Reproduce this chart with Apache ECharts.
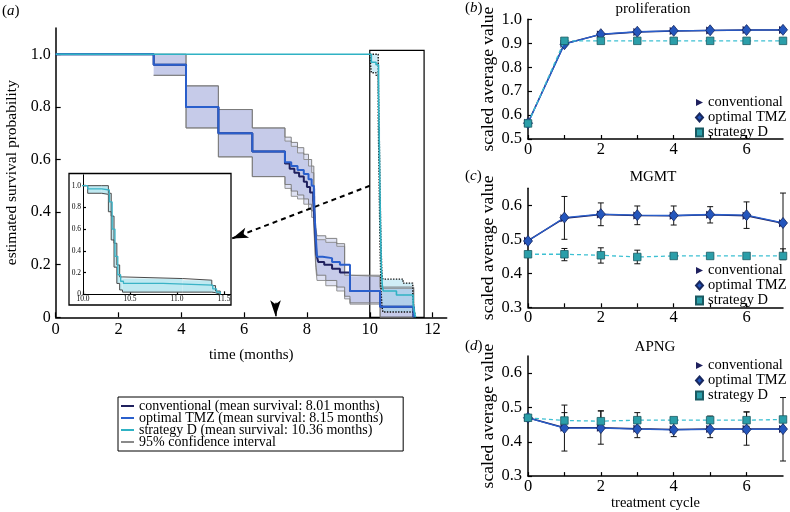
<!DOCTYPE html>
<html><head><meta charset="utf-8">
<script src="https://cdn.jsdelivr.net/npm/echarts@6/dist/echarts.min.js"></script>
<style>html,body{margin:0;padding:0;background:#fff}#c{width:790px;height:512px}</style>
</head><body><div id="c"></div>
<script>
// ---------------- (a) Kaplan-Meier data ----------------
const convT = [0, 3.12, 4.15, 5.18, 6.26, 7.3, 7.45, 7.6, 7.75, 7.9, 8.0, 8.1, 8.2, 8.26, 8.3, 8.36, 8.55, 8.8, 9.05, 9.37, 10.33, 11.39];
const convS = [1, 0.96, 0.80, 0.70, 0.63, 0.585, 0.565, 0.55, 0.535, 0.515, 0.495, 0.475, 0.445, 0.33, 0.24, 0.21, 0.2, 0.185, 0.17, 0.1, 0.04, 0];
const optT = [0, 3.12, 4.15, 5.18, 6.26, 7.3, 7.5, 7.7, 7.9, 8.05, 8.15, 8.22, 8.27, 8.32, 8.5, 8.8, 9.05, 9.37, 10.33, 11.4];
const optS = [1, 0.96, 0.80, 0.70, 0.63, 0.59, 0.575, 0.56, 0.545, 0.525, 0.50, 0.45, 0.33, 0.23, 0.225, 0.21, 0.2, 0.1, 0.04, 0];
const dT = [0, 10.05, 10.2, 10.28, 10.31, 10.34, 10.37, 10.4, 10.43, 10.85, 11.38, 11.42, 11.46];
const dS = [1, 0.97, 0.96, 0.85, 0.6, 0.35, 0.18, 0.12, 0.1, 0.085, 0.05, 0.02, 0];

const convBandT = [3.12, 4.15, 5.18, 6.26, 7.3, 7.5, 7.7, 7.9, 8.05, 8.15, 8.22, 8.28, 8.32, 8.6, 8.95, 9.2, 9.37, 10.33, 11.4];
const convHi = [1.0, 0.88, 0.79, 0.72, 0.67, 0.65, 0.625, 0.6, 0.575, 0.55, 0.46, 0.32, 0.295, 0.285, 0.27, 0.16, 0.155, 0.11, 0];
const convLo = [0.92, 0.72, 0.61, 0.535, 0.49, 0.46, 0.45, 0.43, 0.41, 0.38, 0.34, 0.19, 0.14, 0.12, 0.1, 0.07, 0.05, 0, 0];
const optHi = [1.0, 0.88, 0.79, 0.72, 0.685, 0.665, 0.645, 0.62, 0.6, 0.575, 0.49, 0.34, 0.31, 0.3, 0.28, 0.17, 0.16, 0.115, 0];
const optLo = [0.92, 0.72, 0.61, 0.535, 0.505, 0.48, 0.465, 0.45, 0.43, 0.405, 0.36, 0.21, 0.16, 0.14, 0.115, 0.08, 0.055, 0, 0];
const dBandT = [10.0, 10.05, 10.2, 10.27, 10.3, 10.33, 10.36, 10.39, 10.42, 11.06, 11.37, 11.41, 11.46];
const dHi = [1.0, 1.0, 1.0, 0.93, 0.72, 0.47, 0.27, 0.16, 0.145, 0.13, 0.08, 0.03, 0];
const dLo = [1.0, 0.93, 0.92, 0.76, 0.5, 0.25, 0.1, 0.04, 0.02, 0.02, 0.015, 0, 0];

const zoomBox = [[10.0, 0], [11.73, 1.015]];
const zoomArrow = [[10.0, 0.5], [5.62, 0.30]];
const markTime = 7;

const kmNames = ['conventional (mean survival: 8.01 months)', 'optimal TMZ (mean survival: 8.15 months)', 'strategy D (mean survival: 10.36 months)', '95% confidence interval'];

// ---------------- (b)-(d) data ----------------
const cycles = [0, 1, 2, 3, 4, 5, 6, 7];
const prolifConv = [0.568, 0.898, 0.937, 0.947, 0.951, 0.953, 0.955, 0.955];
const prolifOpt = [0.566, 0.896, 0.938, 0.948, 0.952, 0.954, 0.955, 0.956];
const prolifD = [0.565, 0.91, 0.91, 0.91, 0.91, 0.91, 0.91, 0.91];

const mgmtConv = [0.496, 0.562, 0.573, 0.570, 0.569, 0.572, 0.569, 0.547];
const mgmtOpt = [0.495, 0.564, 0.574, 0.571, 0.570, 0.573, 0.571, 0.548];
const mgmtD = [0.456, 0.456, 0.453, 0.448, 0.451, 0.451, 0.451, 0.451];
const mgmtErrLo = [null, 0.50, 0.54, 0.543, 0.542, 0.548, 0.532, 0.45];
const mgmtErrHi = [null, 0.626, 0.607, 0.598, 0.598, 0.596, 0.61, 0.636];
const mgmtDErrLo = [null, 0.437, 0.43, 0.428, null, null, null, 0.44];
const mgmtDErrHi = [null, 0.473, 0.475, 0.468, null, null, null, 0.472];

const apngConv = [0.47, 0.441, 0.441, 0.438, 0.436, 0.437, 0.437, 0.437];
const apngOpt = [0.47, 0.44, 0.44, 0.437, 0.435, 0.436, 0.436, 0.437];
const apngD = [0.47, 0.462, 0.46, 0.463, 0.463, 0.463, 0.463, 0.465];
const apngErrLo = [null, 0.373, 0.393, 0.412, 0.415, 0.412, 0.39, 0.344];
const apngErrHi = [null, 0.507, 0.49, 0.47, 0.47, 0.475, 0.487, 0.529];
const apngDErrLo = [null, 0.44, 0.44, 0.445, null, null, 0.445, null];
const apngDErrHi = [null, 0.485, 0.49, 0.485, null, null, 0.487, null];

const panelNames = ['conventional', 'optimal TMZ', 'strategy D'];

// ---------------- styling ----------------
const SERIF = '"Liberation Serif", "DejaVu Serif", serif';
const NAVY = '#1f205e', BLUE = '#2a5fcc', TEAL = '#2fb2c4';
const TRI = 'path://M0,0L10,5L0,10Z';

const pairs = (T, V) => T.map((t, i) => [t, V[i]]);
function cells(T, lo, hi) { const o = []; for (let i = 0; i < T.length - 1; i++) o.push([T[i], T[i + 1], lo[i], hi[i]]); return o; }

function bandFill(gi, T, lo, hi, color, z) {
  return { type: 'custom', name: 'band', xAxisIndex: gi, yAxisIndex: gi, z, silent: true, clip: true,
    data: cells(T, lo, hi), encode: { x: [0, 1], y: [2, 3] },
    renderItem: (p, api) => {
      const a = api.coord([api.value(0), api.value(3)]);
      const b = api.coord([api.value(1), api.value(2)]);
      return { type: 'rect', shape: { x: a[0], y: a[1], width: b[0] - a[0], height: b[1] - a[1] }, style: { fill: color } };
    } };
}
function edge(gi, T, V, color, type, width) {
  return { type: 'line', name: '95% confidence interval', xAxisIndex: gi, yAxisIndex: gi, step: 'end', symbol: 'none',
    data: pairs(T, V), lineStyle: { color, width, type }, itemStyle: { color }, z: 3, silent: true };
}
function km(gi, name, T, V, color, width, z) {
  return { type: 'line', name, xAxisIndex: gi, yAxisIndex: gi, step: 'end', symbol: 'none',
    data: pairs(T, V), lineStyle: { color, width }, itemStyle: { color }, z, silent: true };
}
function errBars(gi, X, lo, hi, z) {
  const data = [];
  X.forEach((x, i) => { if (lo[i] != null) data.push([x, lo[i], hi[i]]); });
  return { type: 'custom', name: 'err', xAxisIndex: gi, yAxisIndex: gi, z, silent: true, clip: false, data, encode: { x: 0, y: [1, 2] },
    renderItem: (p, api) => {
      const a = api.coord([api.value(0), api.value(1)]), b = api.coord([api.value(0), api.value(2)]), w = 3;
      const st = { stroke: '#111', lineWidth: 1 };
      return { type: 'group', children: [
        { type: 'line', shape: { x1: a[0], y1: a[1], x2: b[0], y2: b[1] }, style: st },
        { type: 'line', shape: { x1: a[0] - w, y1: a[1], x2: a[0] + w, y2: a[1] }, style: st },
        { type: 'line', shape: { x1: b[0] - w, y1: b[1], x2: b[0] + w, y2: b[1] }, style: st }] };
    } };
}
function markerSeries(gi, conv, opt, d) {
  return [
    { type: 'line', name: 'conventional', xAxisIndex: gi, yAxisIndex: gi, data: pairs(cycles, conv), symbol: TRI, symbolSize: 8,
      lineStyle: { color: NAVY, width: 1.5 }, itemStyle: { color: NAVY }, z: 5, clip: false, silent: true },
    { type: 'line', name: 'optimal TMZ', xAxisIndex: gi, yAxisIndex: gi, data: pairs(cycles, opt), symbol: 'diamond', symbolSize: [9, 11],
      lineStyle: { color: BLUE, width: 1.3 }, itemStyle: { color: '#2456bd', borderColor: '#18285e', borderWidth: 0.8 }, z: 6, clip: false, silent: true },
    { type: 'line', name: 'strategy D', xAxisIndex: gi, yAxisIndex: gi, data: pairs(cycles, d), symbol: 'rect', symbolSize: 7.5,
      lineStyle: { color: '#3cc0d2', width: 1.3, type: [4, 3] }, itemStyle: { color: '#2b9ea9', borderColor: '#1a5a62', borderWidth: 0.8 }, z: 7, clip: false, silent: true }
  ];
}

const axLine = { show: true, lineStyle: { color: '#000', width: 1.5 } };
const tick = (len) => ({ show: true, inside: true, length: len, lineStyle: { color: '#000', width: 1.2 } });
const lbl = (size, margin, fmt, showMax) => ({ fontFamily: SERIF, fontSize: size, color: '#000', margin, formatter: fmt, showMaxLabel: !!showMax });
const nameStyle = (size) => ({ fontFamily: SERIF, fontSize: size, color: '#000' });
const fmt1 = v => v === 0 ? '0' : v.toFixed(1);
const fmtEven = v => (Math.abs(v - Math.round(v)) < 1e-9 && Math.round(v) % 2 === 0) ? String(Math.round(v)) : '';

const rGrids = [
  { left: 528, right: 7, top: 19.3, height: 119.7 },
  { left: 528, right: 7, top: 188.3, height: 119 },
  { left: 528, right: 7, top: 356, height: 120.7 }
];
const rY = [[0.5, 1.0], [0.3, 0.65], [0.3, 0.65]];

const option = {
  animation: false,
  backgroundColor: '#fff',
  textStyle: { fontFamily: SERIF },
  grid: [
    { left: 55.7, width: 391, top: 28, height: 289.3 },
    { left: 83, width: 147.6, top: 174.8, height: 119.5 },
    ...rGrids
  ],
  xAxis: [
    { type: 'value', gridIndex: 0, min: 0, max: 12.45, interval: 2, axisLine: axLine, axisTick: tick(5), splitLine: { show: false },
      axisLabel: lbl(16.5, 4, fmtEven), name: 'time (months)', nameLocation: 'middle', nameGap: 30, nameTextStyle: nameStyle(15) },
    { type: 'value', gridIndex: 1, min: 10, max: 11.57, interval: 0.5, axisLine: { lineStyle: { color: '#000', width: 1 } }, axisTick: tick(3), splitLine: { show: false },
      axisLabel: lbl(7.5, 1, v => v.toFixed(1)) },
    ...[2, 3, 4].map(gi => ({ type: 'value', gridIndex: gi, min: 0, max: 7, interval: 1, axisLine: axLine, axisTick: tick(4), splitLine: { show: false },
      axisLabel: lbl(16.5, 2, fmtEven), name: gi === 4 ? 'treatment cycle' : '', nameLocation: 'middle', nameGap: 19, nameTextStyle: nameStyle(14.5) }))
  ],
  yAxis: [
    { type: 'value', gridIndex: 0, min: 0, max: 1.1, interval: 0.2, axisLine: axLine, axisTick: tick(5), splitLine: { show: false },
      axisLabel: lbl(16, 5, fmt1), name: 'estimated survival probability', nameLocation: 'middle', nameGap: 36, nameTextStyle: nameStyle(15.5) },
    { type: 'value', gridIndex: 1, min: 0, max: 1.1, interval: 0.2, axisLine: { lineStyle: { color: '#000', width: 1 } }, axisTick: tick(3), splitLine: { show: false },
      axisLabel: lbl(7.5, 2, fmt1) },
    ...[2, 3, 4].map((gi, k) => ({ type: 'value', gridIndex: gi, min: rY[k][0], max: rY[k][1], interval: 0.1, axisLine: axLine, axisTick: tick(4), splitLine: { show: false },
      axisLabel: lbl(16.5, 6, v => v.toFixed(1), k === 0), name: 'scaled average value', nameLocation: 'middle', nameGap: 17, nameTextStyle: nameStyle(17.5) }))
  ],
  legend: [
    { left: 118, top: 397, orient: 'vertical', itemGap: -2, itemWidth: 13, itemHeight: 2, padding: [2, 20, 2, 3],
      borderColor: '#000', borderWidth: 1, selectedMode: false, icon: 'rect',
      textStyle: { fontFamily: SERIF, fontSize: 14, color: '#000' }, data: kmNames },
    ...[[695, 95], [695, 263], [695, 358]].map(([l, t]) => ({ left: l, top: t, orient: 'vertical', itemGap: 0, itemWidth: 7, itemHeight: 8, padding: 0,
      selectedMode: false, textStyle: { fontFamily: SERIF, fontSize: 14.5, color: '#000', lineHeight: 14.2 },
      data: [{ name: panelNames[0], icon: TRI }, { name: panelNames[1], icon: 'diamond' }, { name: panelNames[2], icon: 'rect' }] }))
  ],
  graphic: [
    { type: 'rect', shape: { x: 69, y: 173.5, width: 162, height: 131.5 }, style: { fill: 'none', stroke: '#000', lineWidth: 1.3 }, z: 10 },
    { type: 'text', x: 2, y: 4, style: { text: '({i|a})', font: '15px ' + SERIF, fill: '#000', rich: { i: { fontStyle: 'italic', fontSize: 15, fontFamily: SERIF } } } },
    { type: 'text', x: 465, y: 1, style: { text: '({i|b})', font: '15px ' + SERIF, fill: '#000', rich: { i: { fontStyle: 'italic', fontSize: 15, fontFamily: SERIF } } } },
    { type: 'text', x: 465, y: 169, style: { text: '({i|c})', font: '15px ' + SERIF, fill: '#000', rich: { i: { fontStyle: 'italic', fontSize: 15, fontFamily: SERIF } } } },
    { type: 'text', x: 465, y: 339, style: { text: '({i|d})', font: '15px ' + SERIF, fill: '#000', rich: { i: { fontStyle: 'italic', fontSize: 15, fontFamily: SERIF } } } },
    { type: 'text', x: 653, y: 9, style: { text: 'proliferation', font: '15px ' + SERIF, fill: '#000', align: 'center', verticalAlign: 'middle' } },
    { type: 'text', x: 653, y: 177, style: { text: 'MGMT', font: '15px ' + SERIF, fill: '#000', align: 'center', verticalAlign: 'middle' } },
    { type: 'text', x: 655, y: 347, style: { text: 'APNG', font: '15px ' + SERIF, fill: '#000', align: 'center', verticalAlign: 'middle' } }
  ],
  series: [
    // main chart bands
    bandFill(0, convBandT, convLo, convHi, 'rgba(110,125,200,0.22)', 1),
    bandFill(0, convBandT, optLo, optHi, 'rgba(110,125,200,0.22)', 1),
    bandFill(0, dBandT, dLo, dHi, 'rgba(150,215,235,0.45)', 1),
    edge(0, convBandT, convHi, '#8a8a8a', 'solid', 0.9),
    edge(0, convBandT, convLo, '#8a8a8a', 'solid', 0.9),
    edge(0, convBandT, optHi, '#777', 'solid', 0.9),
    edge(0, convBandT, optLo, '#777', 'solid', 0.9),
    edge(0, dBandT, dHi, '#111', 'dotted', 1.4),
    edge(0, dBandT, dLo, '#111', 'dotted', 1.4),
    km(0, kmNames[0], convT, convS, NAVY, 2, 4),
    km(0, kmNames[1], optT, optS, BLUE, 2, 5),
    Object.assign(km(0, kmNames[2], dT, dS, TEAL, 1.6, 6), {
      markArea: { silent: true, label: { show: false }, itemStyle: { color: 'rgba(0,0,0,0)', borderColor: '#000', borderWidth: 1.2 },
        data: [[{ coord: zoomBox[0] }, { coord: zoomBox[1] }]] },
      markLine: { silent: true, symbol: ['none', 'arrow'], label: { show: false }, animation: false,
        data: [
          [{ coord: zoomArrow[0], lineStyle: { type: [5, 4], color: '#000', width: 2 }, symbolSize: 10 }, { coord: zoomArrow[1] }],
          [{ coord: [markTime, 0.055], lineStyle: { type: 'solid', color: '#000', width: 1.5 }, symbolSize: [7, 8] }, { coord: [markTime, 0.004] }]
        ] }
    }),
    // inset
    bandFill(1, dBandT, dLo, dHi, '#bfe9f1', 1),
    Object.assign(edge(1, dBandT, dHi, '#4a4a4a', 'solid', 1), { name: 'inset-edge' }),
    Object.assign(edge(1, dBandT, dLo, '#4a4a4a', 'solid', 1), { name: 'inset-edge' }),
    km(1, 'inset-D', dT, dS, '#3ab3c6', 1.3, 4),
    // right panels
    ...markerSeries(2, prolifConv, prolifOpt, prolifD),
    errBars(3, cycles, mgmtErrLo, mgmtErrHi, 4),
    errBars(3, cycles, mgmtDErrLo, mgmtDErrHi, 4),
    ...markerSeries(3, mgmtConv, mgmtOpt, mgmtD),
    errBars(4, cycles, apngErrLo, apngErrHi, 4),
    errBars(4, cycles, apngDErrLo, apngDErrHi, 4),
    ...markerSeries(4, apngConv, apngOpt, apngD)
  ]
};
echarts.init(document.getElementById('c'), null, { renderer: 'canvas' }).setOption(option);
</script></body></html>
